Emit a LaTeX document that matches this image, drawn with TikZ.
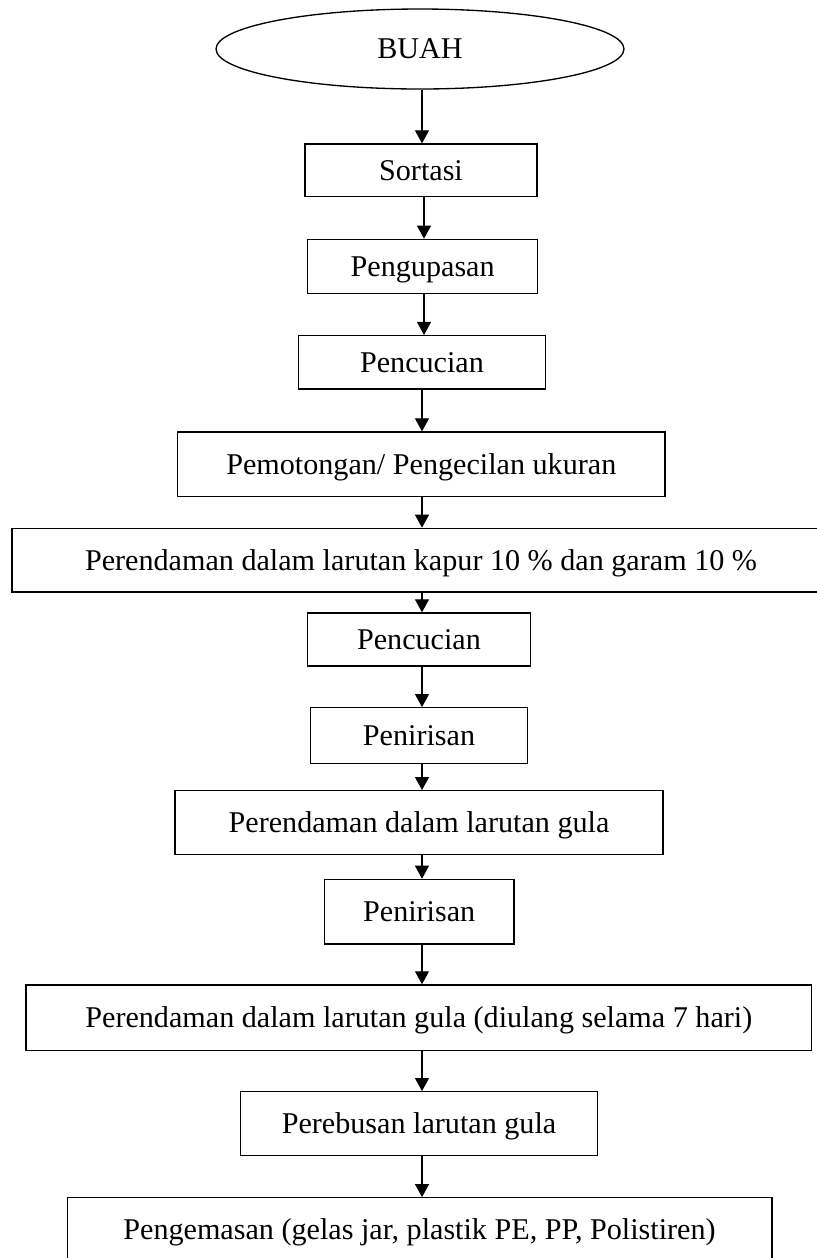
\documentclass[tikz,border=0pt]{standalone}
\usepackage{fontspec}
\setmainfont{Liberation Serif}
\usetikzlibrary{shapes.geometric,arrows.meta}
\tikzset{
  stepbox/.style={draw, line width=1pt, rectangle, inner sep=0pt, align=center,
    text height=14.9pt, text depth=0pt},
  startell/.style={draw, line width=1pt, ellipse, inner sep=0pt,
    text height=14.9pt, text depth=0pt},
  arr/.style={line width=0.8pt, -{Triangle[length=9.75pt,width=10.5pt]}},
}
\begin{document}
\begin{tikzpicture}[x=0.75pt,y=-0.75pt,font=\fontsize{22.6}{26}\selectfont]
\useasboundingbox (0,0) rectangle (817,1258);
\clip (0,0) rectangle (817,1258);
\fill[white] (0,0) rectangle (817,1258);
\coordinate (ax) at (422,0);
\coordinate (bx) at (424,0);
\node[startell, minimum width=306pt, minimum height=60pt] (buah) at (420,49) {BUAH};
\node[stepbox, minimum width=174pt, minimum height=39.5pt] (sortasi) at (421,170.3) {Sortasi};
\node[stepbox, minimum width=172.5pt, minimum height=40.5pt] (kupas) at (422.7,266.3) {Pengupasan};
\node[stepbox, minimum width=185.5pt, minimum height=40pt] (cuci1) at (422,362.3) {Pencucian};
\node[stepbox, minimum width=365.5pt, minimum height=48.5pt] (potong) at (421.3,464.3) {Pemotongan/ Pengecilan ukuran};
\node[stepbox, minimum width=613.5pt, minimum height=47.8pt] (kapur) at (421,560.2) {Perendaman dalam larutan kapur 10 \% dan garam 10 \%};
\node[stepbox, minimum width=166.8pt, minimum height=39.8pt] (cuci2) at (419,639.5) {Pencucian};
\node[stepbox, minimum width=162.8pt, minimum height=41.7pt] (tiris1) at (419,735.5) {Penirisan};
\node[stepbox, minimum width=366pt, minimum height=48pt] (gula1) at (419,822.7) {Perendaman dalam larutan gula};
\node[stepbox, minimum width=142.1pt, minimum height=48.5pt] (tiris2) at (419.2,911.7) {Penirisan};
\node[stepbox, minimum width=589.1pt, minimum height=49.3pt] (gula2) at (418.8,1017.8) {Perendaman dalam larutan gula (diulang selama 7 hari)};
\node[stepbox, minimum width=267.6pt, minimum height=48pt] (rebus) at (419,1123.7) {Perebusan larutan gula};
\node[stepbox, minimum width=528.5pt, minimum height=48.2pt] (kemas) at (419.5,1229.9) {Pengemasan (gelas jar, plastik PE, PP, Polistiren)};
\draw[arr] (buah.south -| ax) -- (sortasi.north -| ax);
\draw[arr] (sortasi.south -| bx) -- (kupas.north -| bx);
\draw[arr] (kupas.south -| bx) -- (cuci1.north -| bx);
\draw[arr] (cuci1.south -| ax) -- (potong.north -| ax);
\draw[arr] (potong.south -| ax) -- (kapur.north -| ax);
\draw[arr] (kapur.south -| ax) -- (cuci2.north -| ax);
\draw[arr] (cuci2.south -| ax) -- (tiris1.north -| ax);
\draw[arr] (tiris1.south -| ax) -- (gula1.north -| ax);
\draw[arr] (gula1.south -| ax) -- (tiris2.north -| ax);
\draw[arr] (tiris2.south -| ax) -- (gula2.north -| ax);
\draw[arr] (gula2.south -| ax) -- (rebus.north -| ax);
\draw[arr] (rebus.south -| ax) -- (kemas.north -| ax);
\end{tikzpicture}
\end{document}
